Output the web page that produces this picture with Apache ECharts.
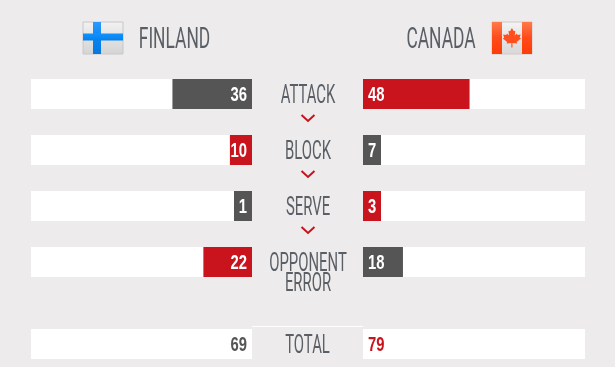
<!DOCTYPE html>
<html><head><meta charset="utf-8">
<script src="https://cdn.jsdelivr.net/npm/echarts@6/dist/echarts.min.js"></script>
<style>html,body{margin:0;padding:0;background:#edebec}#c{width:615px;height:367px}</style>
</head><body><div id="c"></div>
<script>
const teams = ['FINLAND', 'CANADA'];
const categories = ['ATTACK', 'BLOCK', 'SERVE', 'OPPONENT\nERROR'];
const finland = [36, 10, 1, 22];
const canada = [48, 7, 3, 18];
const totalLabel = ['TOTAL'];
const finlandTotal = [69];
const canadaTotal = [79];

const RED = '#c9141e', DARK = '#555555', BG = '#edebec', TXT = '#5a5f66';
const FONT = 'Roboto,"Liberation Sans",sans-serif';
const NUMFONT = '"Liberation Sans",sans-serif';

const color = (a, b) => a > b ? RED : DARK;
const barData = (mine, other) => mine.map((v, i) => ({value: v, itemStyle: {color: color(v, other[i])}}));

function barSeries(idx, data) {
  return {type: 'bar', xAxisIndex: idx, yAxisIndex: idx, data, barWidth: 30, barMinHeight: 18,
    showBackground: true, backgroundStyle: {color: '#fff'}, silent: true, animation: false};
}
function totalSeries(idx, vals) {
  return {type: 'bar', xAxisIndex: idx, yAxisIndex: idx, data: vals, barWidth: 30,
    showBackground: true, backgroundStyle: {color: '#fff'}, itemStyle: {color: '#fff'}, silent: true, animation: false};
}
function labelSeries(idx, vals, colorOf, side) {
  return {type: 'custom', xAxisIndex: idx, yAxisIndex: idx, silent: true, animation: false, z: 5,
    data: vals.map((v, i) => [0, i, v]),
    encode: {x: 0, y: 1},
    clip: false,
    renderItem: (params, api) => {
      const p = api.coord([0, api.value(1)]);
      const left = side === 'L';
      return {type: 'text', x: p[0] + (left ? -5 : 5), y: p[1] + 1.5, scaleX: 0.74,
        style: {text: String(api.value(2)), fontFamily: NUMFONT, fontWeight: 'bold', fontSize: 20,
          fill: colorOf(params.dataIndex), align: left ? 'right' : 'left', verticalAlign: 'middle'}};
    }};
}
const xA = (gridIndex, inverse) => ({type: 'value', gridIndex, min: 0, max: 100, inverse, show: false});
const yA = (gridIndex, data) => ({type: 'category', gridIndex, data, inverse: true, show: false});

function txt(str, cx, cy, size, sx, lh) {
  return {type: 'text', x: cx, y: cy, scaleX: sx, silent: true,
    style: {text: str, fontFamily: FONT, fontWeight: 400, fontSize: size, fill: TXT, align: 'center', verticalAlign: 'middle', lineHeight: lh || size}};
}
function chevron(cy) {
  return {type: 'polyline', silent: true, shape: {points: [[301.5, cy - 3], [308, cy + 3], [314.5, cy - 3]]},
    style: {stroke: RED, lineWidth: 2, fill: 'none'}};
}
const grad = (stops) => ({type: 'linear', x: 0, y: 0, x2: 0, y2: 1,
  colorStops: stops.map((c, i) => ({offset: i / (stops.length - 1), color: c}))});
const leafPts = [[12,0],[14,3.5],[15.6,2.8],[15,8],[17.2,5.8],[18,7.4],[21.2,6.8],[20.2,10.2],[21.6,11],[17,14.8],[17.6,16.4],[12.6,15.8],[12.6,20.5],[11.4,20.5],[11.4,15.8],[6.4,16.4],[7,14.8],[2.4,11],[3.8,10.2],[2.8,6.8],[6,7.4],[6.8,5.8],[9,8],[8.4,2.8],[10,3.5]];

const graphic = [
  {type: 'rect', silent: true, shape: {x: 83, y: 22, width: 40, height: 32},
    style: {fill: grad(['#f2f2f2', '#e2e2e2', '#d4d4d4']), stroke: '#c8c8c8', lineWidth: 1}},
  {type: 'rect', silent: true, shape: {x: 93, y: 22, width: 8, height: 32}, style: {fill: grad(['#2a9bff', '#0a84f0', '#0678e0'])}},
  {type: 'rect', silent: true, shape: {x: 83, y: 33.5, width: 40, height: 7}, style: {fill: grad(['#1092ff', '#0780e8'])}},
  {type: 'rect', silent: true, shape: {x: 492, y: 22, width: 40, height: 32},
    style: {fill: grad(['#f4f4f4', '#e4e4e4', '#d8d8d8']), stroke: '#cfc9c6', lineWidth: 1}},
  {type: 'rect', silent: true, shape: {x: 492, y: 22, width: 10, height: 32}, style: {fill: grad(['#ff7a4a', '#ff4a1a', '#ff3c08'])}},
  {type: 'rect', silent: true, shape: {x: 522, y: 22, width: 10, height: 32}, style: {fill: grad(['#ff7a4a', '#ff4a1a', '#ff3c08'])}},
  {type: 'polygon', silent: true, x: 500.5, y: 28, scaleX: 0.95, scaleY: 0.95, shape: {points: leafPts}, style: {fill: '#ff4f1c'}},
  txt(teams[0], 174.5, 40, 30, 0.58),
  txt(teams[1], 441, 40, 30, 0.58),
  ...categories.map((c, i) => txt(c, 308, i < 3 ? 97 + 56 * i : 275, 25, 0.595, 20)),
  ...[0, 1, 2].map(i => chevron(118 + 56 * i)),
  txt(totalLabel[0], 307.5, 347, 25, 0.595),
  {type: 'line', silent: true, shape: {x1: 252, y1: 326.5, x2: 363, y2: 326.5}, style: {stroke: '#fff', lineWidth: 1}}
];

const chart = echarts.init(document.getElementById('c'), null, {renderer: 'canvas'});
chart.setOption({
  backgroundColor: BG,
  animation: false,
  tooltip: {show: false},
  grid: [
    {left: 31, width: 221, top: 66, height: 224},
    {left: 363, width: 222, top: 66, height: 224},
    {left: 31, width: 221, top: 329, height: 30},
    {left: 363, width: 222, top: 329, height: 30}
  ],
  xAxis: [xA(0, true), xA(1, false), xA(2, true), xA(3, false)],
  yAxis: [yA(0, categories), yA(1, categories), yA(2, totalLabel), yA(3, totalLabel)],
  series: [
    barSeries(0, barData(finland, canada)),
    barSeries(1, barData(canada, finland)),
    totalSeries(2, finlandTotal),
    totalSeries(3, canadaTotal),
    labelSeries(0, finland, () => '#fff', 'L'),
    labelSeries(1, canada, () => '#fff', 'R'),
    labelSeries(2, finlandTotal, i => color(finlandTotal[i], canadaTotal[i]), 'L'),
    labelSeries(3, canadaTotal, i => color(canadaTotal[i], finlandTotal[i]), 'R')
  ],
  graphic
});
</script></body></html>
